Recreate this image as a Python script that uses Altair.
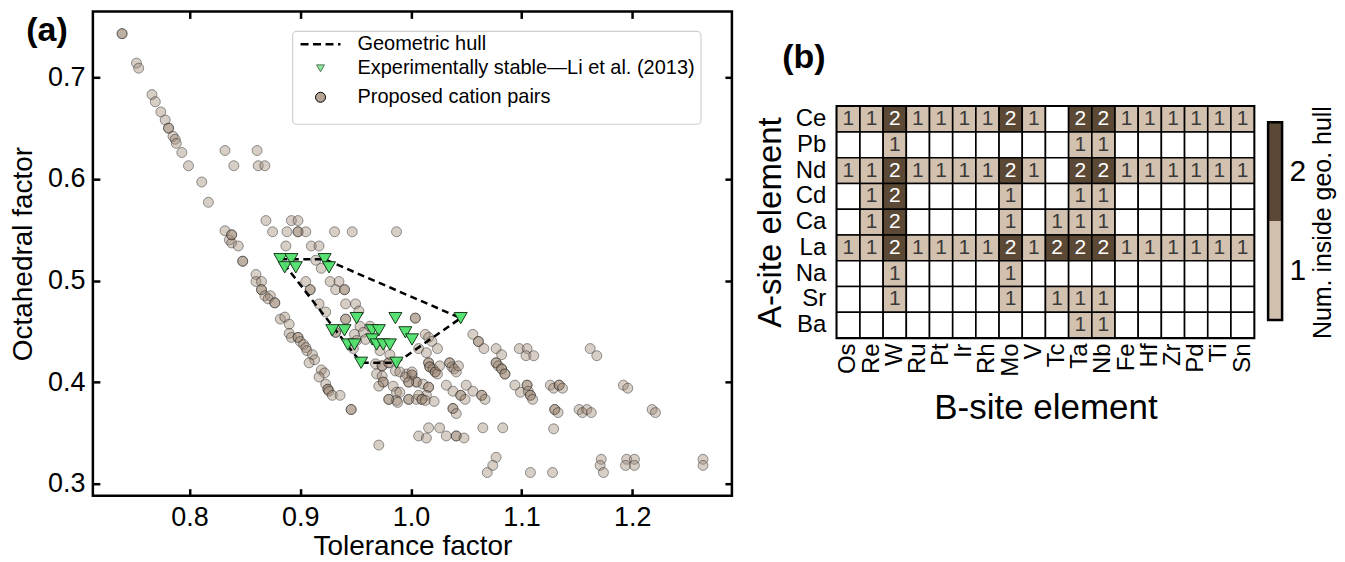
import altair as alt
import pandas as pd

FONT = "Liberation Sans"

# ---------------- panel (a) data ----------------
# proposed cation pairs (tolerance factor, octahedral factor)
cand_tol = [
    0.739, 0.739, 0.752, 0.754, 0.766, 0.769, 0.774, 0.778, 0.781, 0.781, 0.785, 0.787, 0.788, 0.793,
    0.799, 0.811, 0.817, 0.832, 0.840, 0.861, 0.862, 0.868,
    0.869, 0.892, 0.898, 0.875, 0.888, 0.898, 0.898, 0.905, 0.931, 0.947, 0.987, 0.887, 0.910, 0.917,
    0.832, 0.836, 0.838, 0.838, 0.838, 0.844, 0.848, 0.848, 0.860, 0.860, 0.865, 0.865, 0.865, 0.868,
    0.873, 0.871, 0.877, 0.877,
    0.882, 0.886, 0.890, 0.890, 0.892, 0.898, 0.898, 0.900, 0.903, 0.905, 0.906, 0.911, 0.913, 0.908,
    0.919, 0.922, 0.917, 0.923, 0.925, 0.925, 0.926, 0.929, 0.936, 0.946, 0.946, 0.971,
    0.905, 0.909, 0.909, 0.927, 0.935, 0.932, 0.940, 0.940, 0.914, 0.919, 0.917, 0.923, 0.941, 0.950,
    0.953, 0.941, 0.941, 1.004, 1.004, 0.954, 0.957, 0.963, 0.932, 0.932, 0.949, 0.951, 0.948, 0.972,
    0.968, 0.974, 0.974, 0.980, 0.980, 0.986, 0.969, 0.974, 0.975, 0.975, 0.971, 0.984, 0.987, 0.980,
    0.980, 0.987, 0.996, 1.001, 1.001, 1.005, 1.005, 0.998, 0.998, 0.990, 0.995, 1.001, 1.011, 1.016,
    1.016, 1.014, 0.990, 0.998, 0.998, 1.005, 1.007, 1.010, 1.010, 1.013, 1.021, 0.988,
    1.013, 1.016, 1.019, 1.024, 1.007, 1.056, 1.061, 1.061, 1.066, 1.077, 1.082, 1.098, 1.105, 1.104,
    1.111, 1.016, 1.016, 1.017, 1.017, 1.020, 1.022, 1.022, 1.024, 1.026, 1.035, 1.035, 1.037, 1.039,
    1.041, 1.043, 1.077, 1.077, 1.079, 1.082, 1.082, 1.085, 1.085, 1.032, 1.038, 1.045, 1.045, 1.049,
    1.050, 1.056, 1.064, 1.064, 1.067, 1.094, 1.099, 1.105, 1.105, 1.106, 1.108, 1.108, 1.110, 1.038,
    1.038, 1.041, 1.016, 1.026, 1.007, 1.014, 1.032, 1.041, 1.041, 1.048, 1.065, 1.083, 1.077, 1.129,
    1.074, 1.069, 1.108, 1.128, 1.126, 1.129, 1.134, 1.134, 1.137, 1.130, 1.130, 1.133, 1.152, 1.155,
    1.159, 1.163, 1.162, 1.168, 1.192, 1.196, 1.218, 1.221, 1.172, 1.171, 1.174, 1.195, 1.194, 1.202,
    1.202, 1.264, 1.264, 0.959, 0.981, 1.014,
]
cand_oct = [
    0.743, 0.743, 0.714, 0.709, 0.683, 0.676, 0.666, 0.658, 0.650, 0.650, 0.642, 0.639, 0.635, 0.626,
    0.613, 0.597, 0.577, 0.628, 0.613, 0.628, 0.613, 0.613,
    0.559, 0.559, 0.559, 0.548, 0.548, 0.548, 0.548, 0.548, 0.548, 0.548, 0.548, 0.534, 0.534, 0.534,
    0.549, 0.540, 0.537, 0.545, 0.545, 0.534, 0.519, 0.519, 0.506, 0.499, 0.499, 0.491, 0.491, 0.485,
    0.485, 0.482, 0.478, 0.478,
    0.462, 0.464, 0.457, 0.448, 0.444, 0.444, 0.444, 0.440, 0.437, 0.434, 0.431, 0.427, 0.422, 0.419,
    0.412, 0.409, 0.405, 0.398, 0.393, 0.393, 0.391, 0.387, 0.387, 0.373, 0.373, 0.338,
    0.499, 0.491, 0.491, 0.499, 0.499, 0.491, 0.491, 0.491, 0.520, 0.512, 0.477, 0.469, 0.477, 0.477,
    0.470, 0.462, 0.462, 0.463, 0.463, 0.455, 0.449, 0.455, 0.449, 0.449, 0.447, 0.441, 0.433, 0.431,
    0.418, 0.416, 0.416, 0.419, 0.419, 0.411, 0.408, 0.406, 0.400, 0.400, 0.396, 0.396, 0.390, 0.383,
    0.383, 0.382, 0.408, 0.407, 0.407, 0.400, 0.400, 0.400, 0.400, 0.410, 0.405, 0.410, 0.398, 0.395,
    0.395, 0.387, 0.390, 0.383, 0.383, 0.383, 0.387, 0.383, 0.383, 0.382, 0.381, 0.380,
    0.447, 0.444, 0.440, 0.433, 0.433, 0.447, 0.440, 0.440, 0.433, 0.433, 0.427, 0.433, 0.433, 0.426,
    0.426, 0.419, 0.419, 0.415, 0.415, 0.413, 0.410, 0.410, 0.408, 0.416, 0.419, 0.419, 0.415, 0.413,
    0.410, 0.416, 0.419, 0.419, 0.416, 0.413, 0.413, 0.408, 0.408, 0.397, 0.391, 0.387, 0.387, 0.383,
    0.397, 0.391, 0.387, 0.387, 0.383, 0.397, 0.390, 0.397, 0.397, 0.391, 0.387, 0.387, 0.383, 0.374,
    0.374, 0.369, 0.355, 0.355, 0.347, 0.345, 0.347, 0.347, 0.347, 0.345, 0.355, 0.355, 0.326, 0.354,
    0.318, 0.311, 0.311, 0.311, 0.397, 0.394, 0.397, 0.397, 0.394, 0.373, 0.373, 0.370, 0.373, 0.370,
    0.373, 0.370, 0.433, 0.426, 0.397, 0.394, 0.373, 0.370, 0.324, 0.318, 0.311, 0.324, 0.318, 0.324,
    0.318, 0.324, 0.318, 0.442, 0.427, 0.429,
]

# experimentally stable (Li et al. 2013)
exp_tol = [0.882, 0.892, 0.886, 0.896, 0.922, 0.926, 0.951, 0.986, 1.045, 0.929, 0.940, 0.965,
           0.971, 0.995, 1.001, 0.943, 0.949, 0.965, 0.969, 0.975, 0.981, 0.955, 0.987]
exp_oct = [0.521, 0.521, 0.513, 0.513, 0.521, 0.513, 0.463, 0.463, 0.463, 0.451, 0.451, 0.451,
           0.451, 0.449, 0.442, 0.437, 0.437, 0.442, 0.437, 0.437, 0.437, 0.419, 0.419]

# geometric hull (closed)
hull_tol = [0.882, 0.922, 1.045, 0.987, 0.955, 0.882]
hull_oct = [0.521, 0.521, 0.463, 0.419, 0.419, 0.521]

x_ticks = [0.8, 0.9, 1.0, 1.1, 1.2]
y_ticks = [0.3, 0.4, 0.5, 0.6, 0.7]
legend_labels = ["Geometric hull", "Experimentally stable\u2014Li et al. (2013)", "Proposed cation pairs"]

# ---------------- panel (b) data ----------------
a_sites = ["Ce", "Pb", "Nd", "Cd", "Ca", "La", "Na", "Sr", "Ba"]
b_sites = ["Os", "Re", "W", "Ru", "Pt", "Ir", "Rh", "Mo", "V", "Tc", "Ta", "Nb",
           "Fe", "Hf", "Zr", "Pd", "Ti", "Sn"]
counts = [
    [1, 1, 2, 1, 1, 1, 1, 2, 1, 0, 2, 2, 1, 1, 1, 1, 1, 1],
    [0, 0, 1, 0, 0, 0, 0, 0, 0, 0, 1, 1, 0, 0, 0, 0, 0, 0],
    [1, 1, 2, 1, 1, 1, 1, 2, 1, 0, 2, 2, 1, 1, 1, 1, 1, 1],
    [0, 1, 2, 0, 0, 0, 0, 1, 0, 0, 1, 1, 0, 0, 0, 0, 0, 0],
    [0, 1, 2, 0, 0, 0, 0, 1, 0, 1, 1, 1, 0, 0, 0, 0, 0, 0],
    [1, 1, 2, 1, 1, 1, 1, 2, 1, 2, 2, 2, 1, 1, 1, 1, 1, 1],
    [0, 0, 1, 0, 0, 0, 0, 1, 0, 0, 0, 0, 0, 0, 0, 0, 0, 0],
    [0, 0, 1, 0, 0, 0, 0, 1, 0, 1, 1, 1, 0, 0, 0, 0, 0, 0],
    [0, 0, 0, 0, 0, 0, 0, 0, 0, 0, 1, 1, 0, 0, 0, 0, 0, 0],
]
cbar_levels = [1, 2]

LIGHT = "#d3c1b0"
DARK = "#5b4835"
CIRC_FILL = "#9c8470"
GREEN = "#4fe06b"

# ---------------- panel (a) ----------------
circ_df = pd.DataFrame({"t": cand_tol, "o": cand_oct})
exp_df = pd.DataFrame({"t": exp_tol, "o": exp_oct})
hull_df = pd.DataFrame({"t": hull_tol, "o": hull_oct, "k": list(range(len(hull_tol)))})

xs = alt.Scale(domain=[0.7126, 1.2901], nice=False, zero=False)
ys = alt.Scale(domain=[0.2882, 0.7649], nice=False, zero=False)

common_ax = dict(grid=False, domain=False, tickColor="black", tickWidth=2.5, tickSize=7, offset=-7)

x_bottom = alt.Axis(values=x_ticks, format=".1f", title="Tolerance factor", labelFontSize=27,
                    titleFontSize=28, labelPadding=9, titlePadding=2, **common_ax)
y_left = alt.Axis(values=y_ticks, format=".1f", title="Octahedral factor", labelFontSize=27,
                  titleFontSize=28, labelPadding=8, titlePadding=10, **common_ax)
x_top = alt.Axis(values=x_ticks, orient="top", labels=False, title="", **common_ax)
y_right = alt.Axis(values=y_ticks, orient="right", labels=False, title="", **common_ax)

circles = alt.Chart(circ_df).mark_point(
    shape="circle", filled=True, size=100, fill=CIRC_FILL, fillOpacity=0.4,
    stroke="#1e1e1e", strokeOpacity=0.45, strokeWidth=1
).encode(x=alt.X("t:Q", scale=xs, axis=x_bottom), y=alt.Y("o:Q", scale=ys, axis=y_left))

hull = alt.Chart(hull_df).mark_line(color="black", strokeWidth=2.5, strokeDash=[7, 4.5]).encode(
    x=alt.X("t:Q", scale=xs, axis=None), y=alt.Y("o:Q", scale=ys, axis=None), order="k:Q")

tris = alt.Chart(exp_df).mark_point(
    shape="triangle-down", filled=True, size=170, fill=GREEN, fillOpacity=0.95,
    stroke="#173a1c", strokeWidth=1
).encode(x=alt.X("t:Q", scale=xs, axis=x_top), y=alt.Y("o:Q", scale=ys, axis=y_right))

one = pd.DataFrame({"a": [0]})
leg_box = alt.Chart(one).mark_rect(fill="white", fillOpacity=0.85, stroke="#cfcfcf", strokeWidth=1.2,
                                   cornerRadius=4).encode(
    x=alt.value(200), x2=alt.value(609), y=alt.value(20), y2=alt.value(113))
leg_line = alt.Chart(one).mark_rule(color="black", strokeWidth=2.5, strokeDash=[8, 4.5]).encode(
    x=alt.value(208), x2=alt.value(248), y=alt.value(33))
leg_tri = alt.Chart(one).mark_point(shape="triangle-down", filled=True, size=64, fill=GREEN,
                                    stroke="#173a1c", strokeWidth=1).encode(
    x=alt.value(228), y=alt.value(57))
leg_circ = alt.Chart(one).mark_point(shape="circle", filled=True, size=100, fill=CIRC_FILL,
                                     fillOpacity=0.75, stroke="black", strokeWidth=1).encode(
    x=alt.value(228), y=alt.value(86))
leg_texts = [
    alt.Chart(pd.DataFrame({"lab": [lab]})).mark_text(
        align="left", baseline="middle", fontSize=20, font=FONT, color="black").encode(
        text="lab:N", x=alt.value(265), y=alt.value(yy))
    for lab, yy in zip(legend_labels, [33, 57, 86])
]
panel_a_lab = alt.Chart(pd.DataFrame({"lab": ["(a)"]})).mark_text(
    fontSize=34, fontWeight="bold", font=FONT, color="black", align="center", baseline="middle").encode(
    text="lab:N", x=alt.value(-46), y=alt.value(20))

scatter = alt.layer(circles, hull, tris, leg_box, leg_line, leg_tri, leg_circ, *leg_texts,
                    panel_a_lab).resolve_axis(x="independent", y="independent").properties(
    width=640, height=485)

# ---------------- panel (b) ----------------
rows = []
for i, a in enumerate(a_sites):
    for j, b in enumerate(b_sites):
        rows.append({"A": a, "B": b, "n": counts[i][j]})
cells = pd.DataFrame(rows)

hx = alt.X("B:N", sort=b_sites, scale=alt.Scale(paddingInner=0, paddingOuter=0),
           axis=alt.Axis(labelAngle=270, ticks=False, domain=False, labelFontSize=24, labelPadding=5,
                         title="B-site element", titleFontSize=35, titlePadding=14))
hy = alt.Y("A:N", sort=a_sites, scale=alt.Scale(paddingInner=0, paddingOuter=0),
           axis=alt.Axis(ticks=False, domain=False, labelFontSize=24, labelPadding=11,
                         title="A-site element", titleFontSize=33, titlePadding=8))

heat_rect = alt.Chart(cells).mark_rect(stroke="black", strokeWidth=1.6).encode(
    x=hx, y=hy,
    fill=alt.Fill("n:O", scale=alt.Scale(domain=[0, 1, 2], range=["white", LIGHT, DARK]), legend=None))
heat_text = alt.Chart(cells).transform_filter("datum.n > 0").mark_text(
    fontSize=21, font=FONT, baseline="middle").encode(
    x=hx, y=hy, text="n:Q",
    color=alt.Color("n:O", scale=alt.Scale(domain=[1, 2], range=["#3a3a3a", "white"]), legend=None))
heat = alt.layer(heat_rect, heat_text).properties(width=418, height=232)

cb_df = pd.DataFrame({"lo": [lv - 0.5 for lv in cbar_levels], "hi": [lv + 0.5 for lv in cbar_levels],
                      "v": cbar_levels})
cb_scale = alt.Scale(domain=[0.318, 2.662], nice=False, zero=False)
cb_axis = alt.Axis(orient="right", values=cbar_levels, format="d", grid=False, domain=False,
                   tickColor="black", tickWidth=2.5, tickSize=5, offset=-5,
                   labelFontSize=30, labelPadding=7,
                   title="Num. inside geo. hull", titleFontSize=25, titleAngle=270,
                   titleBaseline="top", titlePadding=5)
cb_rect = alt.Chart(cb_df).mark_rect().encode(
    y=alt.Y("lo:Q", scale=cb_scale, axis=cb_axis),
    y2="hi:Q",
    fill=alt.Fill("v:O", scale=alt.Scale(domain=cbar_levels, range=[LIGHT, DARK]), legend=None))
cb_border = alt.Chart(pd.DataFrame({"lo": [0.5], "hi": [2.5]})).mark_rect(
    fill="transparent", stroke="black", strokeWidth=2.5).encode(
    y=alt.Y("lo:Q", scale=cb_scale, axis=cb_axis), y2="hi:Q")
cbar = alt.layer(cb_rect, cb_border).properties(
    width=14, height=232, view=alt.ViewBackground(stroke="transparent"))

b_lab = alt.Chart(pd.DataFrame({"lab": ["(b)"]})).mark_text(
    fontSize=34, fontWeight="bold", font=FONT, color="black", align="center", baseline="middle").encode(
    text="lab:N", x=alt.value(-33), y=alt.value(47)).properties(
    width=60, height=86, view=alt.ViewBackground(stroke="transparent"))

right = alt.vconcat(b_lab, alt.hconcat(heat, cbar, spacing=8), spacing=4)

chart = alt.hconcat(scatter, right, spacing=18).properties(
    padding={"left": 0, "top": 0, "right": 0, "bottom": 0}
).configure_view(stroke="black", strokeWidth=2.5).configure_axis(
    labelFont=FONT, titleFont=FONT, labelColor="black", titleColor="black", titleFontWeight="normal"
).configure_text(font=FONT)

chart.save("out.html", embed_options={"renderer": "svg", "actions": False})
